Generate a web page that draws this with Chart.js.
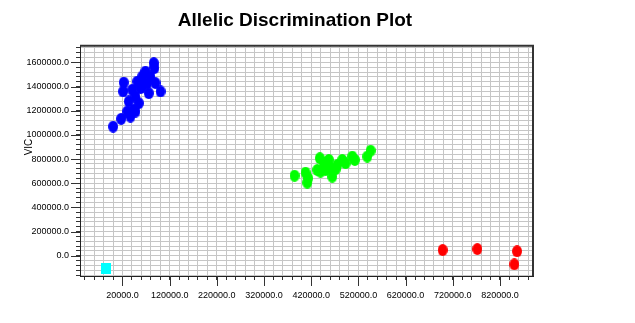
<!DOCTYPE html>
<html>
<head>
<meta charset="utf-8">
<script src="https://cdn.jsdelivr.net/npm/chart.js@4"></script>
<style>
  body { margin: 0; background: #fff; }
  #wrap { width: 590px; height: 323px; }
</style>
</head>
<body>
<div id="wrap"><canvas id="plot"></canvas></div>
<script>
// allele calls (FAM on x, VIC on y)
const blueX = [300, 17200, 22800, 21500, 30000, 33400, 40600, 44000, 47600, 51200, 54600, 58200,
  61800, 68800, 72400, 75800, 86400, 87800, 90000, 100600, 37000, 47600, 61800, 79400];
const blueY = [1069000, 1133000, 1434000, 1360000, 1194000, 1277000, 1374000, 1208000, 1318000, 1442000, 1263000, 1387000,
  1484000, 1525000, 1428000, 1346000, 1595000, 1554000, 1429000, 1360000, 1152000, 1194000, 1401000, 1484000];

const greenX = [384700, 408000, 411600, 413700, 438300, 439800, 446800, 457400, 461000, 464600,
  475200, 485800, 492800, 507000, 512400, 538800, 545800, 450400, 432800, 471600];
const greenY = [663000, 688000, 605000, 641700, 807000, 696000, 766000, 793000, 724000, 655000,
  752000, 793000, 766000, 821000, 793000, 821000, 870000, 710000, 710000, 716000];

const redX = [698500, 772000, 856100, 850500];
const redY = [47000, 55500, 36500, -71300];

// no template control
const ntcX = [-13900];
const ntcY = [-110000];

const xLabels = [20000, 120000, 220000, 320000, 420000, 520000, 620000, 720000, 820000];
const yLabels = [0, 200000, 400000, 600000, 800000, 1000000, 1200000, 1400000, 1600000];

const FONT = "'Liberation Sans', Arial, sans-serif";

function marker(color, w, h, round) {
  const c = document.createElement('canvas');
  c.width = w;
  c.height = h;
  const g = c.getContext('2d');
  g.fillStyle = color;
  if (round) {
    g.beginPath();
    g.ellipse(w / 2, h / 2, w / 2, h / 2, 0, 0, Math.PI * 2);
    g.fill();
  } else {
    g.fillRect(0, 0, w, h);
  }
  return c;
}

const pts = (xs, ys) => xs.map((x, i) => ({ x: x, y: ys[i] }));

// grid every `step`, aligned on multiples of it
const gridTicks = (step) => (s) => {
  const t = [];
  for (let v = Math.ceil(s.min / step) * step; v <= s.max; v += step) t.push({ value: v });
  s.ticks = t;
};

const frame = {
  id: 'frame',
  afterDraw(chart) {
    const { ctx, chartArea: a, scales: { x, y } } = chart;
    ctx.save();
    ctx.strokeStyle = '#333';
    ctx.lineWidth = 2;
    ctx.beginPath();
    ctx.moveTo(a.left, a.top);
    ctx.lineTo(a.right, a.top);
    ctx.lineTo(a.right, a.bottom);
    ctx.stroke();
    // longer ticks at the labelled values
    ctx.lineWidth = 1;
    ctx.beginPath();
    xLabels.forEach((v) => {
      const px = Math.round(x.getPixelForValue(v)) + 0.5;
      ctx.moveTo(px, a.bottom);
      ctx.lineTo(px, a.bottom + 10);
    });
    yLabels.forEach((v) => {
      const py = Math.round(y.getPixelForValue(v)) + 0.5;
      ctx.moveTo(a.left, py);
      ctx.lineTo(a.left - 9, py);
    });
    ctx.stroke();
    ctx.restore();
  },
};

new Chart(document.getElementById('plot'), {
  type: 'scatter',
  data: {
    datasets: [
      { label: 'Allele X', data: pts(redX, redY), pointStyle: marker('#ff0000', 10, 12, true) },
      { label: 'Both', data: pts(greenX, greenY), pointStyle: marker('#00ff00', 10, 12, true) },
      { label: 'Allele Y', data: pts(blueX, blueY), pointStyle: marker('#0000ff', 10, 12, true) },
      { label: 'NTC', data: pts(ntcX, ntcY), pointStyle: marker('#00ffff', 10, 11, false) },
    ],
  },
  options: {
    responsive: true,
    maintainAspectRatio: false,
    animation: false,
    events: [],
    layout: { padding: 0 },
    plugins: {
      legend: { display: false },
      tooltip: { enabled: false },
      title: {
        display: true,
        text: 'Allelic Discrimination Plot',
        color: '#000',
        font: { family: FONT, size: 19, weight: 'bold' },
        padding: { top: 9, bottom: 14 },
      },
    },
    scales: {
      x: {
        type: 'linear',
        min: -70000,
        max: 890000,
        afterBuildTicks: gridTicks(20000),
        afterFit: (s) => { s.height = 47; },
        ticks: {
          autoSkip: false,
          maxRotation: 0,
          minRotation: 0,
          padding: 10,
          color: '#000',
          font: { family: FONT, size: 9 },
          callback: (v) => (xLabels.includes(v) ? v.toFixed(1) : ''),
        },
        grid: { color: '#c6c6c6', lineWidth: 1, tickColor: '#333', tickLength: 4 },
        border: { color: '#222', width: 1 },
      },
      y: {
        type: 'linear',
        min: -168000,
        max: 1738000,
        afterBuildTicks: gridTicks(40000),
        afterFit: (s) => { s.width = 80; },
        title: {
          display: true,
          text: '          VIC',
          color: '#000',
          font: { family: FONT, size: 10 },
          padding: { top: 23, bottom: 0 },
        },
        ticks: {
          autoSkip: false,
          padding: 7,
          color: '#000',
          font: { family: FONT, size: 9 },
          callback: (v) => (yLabels.includes(v) ? v.toFixed(1) : ''),
        },
        grid: { color: '#c6c6c6', lineWidth: 1, tickColor: '#333', tickLength: 4 },
        border: { color: '#222', width: 1 },
      },
      // empty strip on the right so the title centres like the original
      side: {
        type: 'linear',
        position: 'right',
        afterFit: (s) => { s.width = 57; },
        ticks: { display: false },
        grid: { display: false, drawTicks: false },
        border: { display: false },
      },
    },
  },
  plugins: [frame],
});
</script>
</body>
</html>
